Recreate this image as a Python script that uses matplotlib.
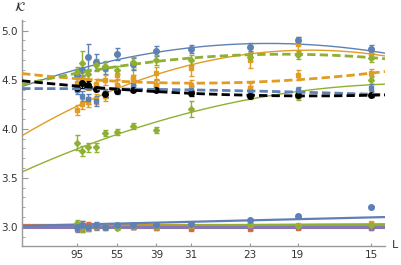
import numpy as np
import matplotlib
matplotlib.use("Agg")
import matplotlib.pyplot as plt

# system sizes, x axis is 1/L
L = np.array([95, 87, 79, 71, 63, 55, 47, 39, 31, 23, 19, 15])
xtick_L = [95, 55, 39, 31, 23, 19, 15]

# upper group
blue_up = [4.55, 4.60, 4.73, 4.68, 4.62, 4.76, 4.66, 4.79, 4.81, 4.83, 4.90, 4.81]
blue_up_err = [0.06, 0.06, 0.13, 0.08, 0.06, 0.06, 0.06, 0.05, 0.04, 0.04, 0.04, 0.04]
orange_up = [4.19, 4.25, 4.27, 4.30, 4.33, 4.45, 4.53, 4.57, 4.62, 4.70, 4.86, 4.76]
orange_up_err = [0.05, 0.05, 0.05, 0.05, 0.05, 0.06, 0.08, 0.06, 0.08, 0.08, 0.08, 0.05]
green_up = [3.86, 3.77, 3.81, 3.81, 3.96, 3.97, 4.03, 3.99, 4.20, 4.33, 4.32, 4.50]
green_up_err = [0.08, 0.05, 0.05, 0.05, 0.03, 0.03, 0.03, 0.03, 0.08, 0.03, 0.03, 0.04]
green_dash = [4.58, 4.67, 4.56, 4.65, 4.64, 4.60, 4.68, 4.70, 4.70, 4.73, 4.75, 4.72]
green_dash_err = [0.05, 0.12, 0.05, 0.06, 0.05, 0.04, 0.05, 0.05, 0.05, 0.04, 0.04, 0.04]
orange_dash = [4.47, 4.50, 4.45, 4.46, 4.50, 4.55, 4.50, 4.45, 4.45, 4.42, 4.55, 4.57]
orange_dash_err = [0.05, 0.05, 0.05, 0.05, 0.05, 0.05, 0.05, 0.05, 0.05, 0.05, 0.05, 0.04]
blue_dash = [4.40, 4.33, 4.30, 4.28, 4.36, 4.40, 4.45, 4.45, 4.40, 4.40, 4.40, 4.42]
blue_dash_err = [0.05, 0.05, 0.05, 0.05, 0.05, 0.05, 0.05, 0.05, 0.04, 0.04, 0.03, 0.04]
black = [4.42, 4.47, 4.45, 4.41, 4.35, 4.38, 4.40, 4.40, 4.36, 4.33, 4.34, 4.34]
black_err = [0.04, 0.05, 0.04, 0.03, 0.03, 0.02, 0.02, 0.02, 0.03, 0.02, 0.02, 0.02]

# lower group
blue_lo = [3.00, 3.02, 3.00, 3.02, 3.00, 3.02, 3.02, 3.02, 3.03, 3.07, 3.11, 3.20]
orange_lo = [3.01, 3.02, 3.00, 3.01, 3.00, 3.01, 3.01, 3.00, 3.01, 3.02, 3.02, 3.04]
green_lo = [3.04, 2.99, 2.99, 3.01, 3.00, 2.99, 3.01, 3.00, 3.02, 3.03, 3.01, 3.02]
red_lo = [3.01, 2.99, 3.02, 3.01, 3.01, 3.00, 3.00, 2.99, 2.98, 2.98, 2.99, 2.99]
purple_lo = [2.98, 3.00, 2.99, 3.00, 2.99, 3.01, 3.00, 3.00, 3.00, 3.00, 3.00, 2.99]
lo_err = [0.03, 0.04, 0.03, 0.03, 0.02, 0.02, 0.02, 0.02, 0.01, 0.01, 0.01, 0.01]

# quadratic fits in 1/L (highest power first)
fit_blue_up = [-199, 18.71, 4.43]
fit_orange_up = [-288, 31.68, 3.93]
fit_green_up = [-160, 24.0, 3.56]
fit_green_dash = [-124, 12.4, 4.45]
fit_orange_dash = [90, -5.94, 4.563]
fit_blue_dash = [-13, 0, 4.41]
fit_black = [51, -5.61, 4.489]
fit_blue_lo = [0, 1.3, 3.01]
fit_orange_lo = [0, 0.2, 3.01]
fit_green_lo = [0, 0.3, 3.005]
fit_red_lo = [0, 0, 3.015]
fit_purple_lo = [0, 0, 3.0]

BLUE = "#5E81B5"
ORANGE = "#E19C24"
GREEN = "#8FB032"
RED = "#EB6235"
PURPLE = "#8778B3"

fig = plt.figure(figsize=(4.01, 2.65), dpi=100)
ax = fig.add_axes([0.055, 0.072, 0.905, 0.853])

x = 1.0 / L
xmax = 0.0693
tt = np.linspace(0, xmax, 200)
dash = (0, (3, 1.5))

def pts(y, err, c, m, ms=4):
    ax.errorbar(x, y, yerr=err, fmt=m, color=c, ms=ms, elinewidth=1,
                capsize=1.8, capthick=1, zorder=3)

# lower group
for fit, c, lw in [(fit_red_lo, RED, 1.6), (fit_orange_lo, ORANGE, 1.6),
                   (fit_green_lo, GREEN, 1.6), (fit_purple_lo, PURPLE, 2.2),
                   (fit_blue_lo, BLUE, 1.6)]:
    ax.plot(tt, np.polyval(fit, tt), color=c, lw=lw, zorder=2)
pts(red_lo, lo_err, RED, "s", 3.5)
pts(purple_lo, lo_err, PURPLE, "s", 3.5)
pts(orange_lo, lo_err, ORANGE, "s", 3.5)
pts(green_lo, lo_err, GREEN, "D", 3)
pts(blue_lo, lo_err, BLUE, "o", 4)

# upper group, solid fits
ax.plot(tt, np.polyval(fit_blue_up, tt), color=BLUE, lw=1, zorder=2)
ax.plot(tt, np.polyval(fit_orange_up, tt), color=ORANGE, lw=1, zorder=2)
ax.plot(tt, np.polyval(fit_green_up, tt), color=GREEN, lw=1, zorder=2)
pts(orange_up, orange_up_err, ORANGE, "s", 3.5)
pts(green_up, green_up_err, GREEN, "D", 3)
pts(blue_up, blue_up_err, BLUE, "o", 4)

# upper group, dashed fits
pts(blue_dash, blue_dash_err, BLUE, "s", 3.5)
pts(orange_dash, orange_dash_err, ORANGE, "s", 3.5)
pts(green_dash, green_dash_err, GREEN, "D", 3)
ax.plot(tt, np.polyval(fit_blue_dash, tt), color=BLUE, lw=2, ls=dash, zorder=4)
ax.plot(tt, np.polyval(fit_orange_dash, tt), color=ORANGE, lw=2, ls=dash, zorder=4)
ax.plot(tt, np.polyval(fit_green_dash, tt), color=GREEN, lw=2, ls=dash, zorder=4)
pts(black, black_err, "black", "o", 4)
ax.plot(tt, np.polyval(fit_black, tt), color="black", lw=2, ls=dash, zorder=5)

ax.set_xlim(0, xmax)
ax.set_ylim(2.806, 5.11)
ax.set_xticks([1.0 / v for v in xtick_L])
ax.set_xticklabels([str(v) for v in xtick_L])
ax.set_yticks([3.0, 3.5, 4.0, 4.5, 5.0])
ax.set_yticks(np.arange(2.9, 5.11, 0.1), minor=True)
for s in ["top", "right"]:
    ax.spines[s].set_visible(False)
for s in ["left", "bottom"]:
    ax.spines[s].set_color("#999999")
    ax.spines[s].set_linewidth(1)
ax.tick_params(direction="in", colors="#999999", labelcolor="#333333",
               labelsize=7.5, length=4, width=0.8, pad=3)
ax.tick_params(which="minor", direction="in", colors="#999999", length=2.2, width=0.6)
ax.tick_params(axis="x", length=2.5)

fig.text(0.035, 0.995, r"$\mathcal{K}$", fontsize=9, va="top", ha="left", color="#333333")
fig.text(0.978, 0.075, "L", fontsize=8, va="center", ha="left", color="#333333")

fig.savefig("out.png", dpi=100)
